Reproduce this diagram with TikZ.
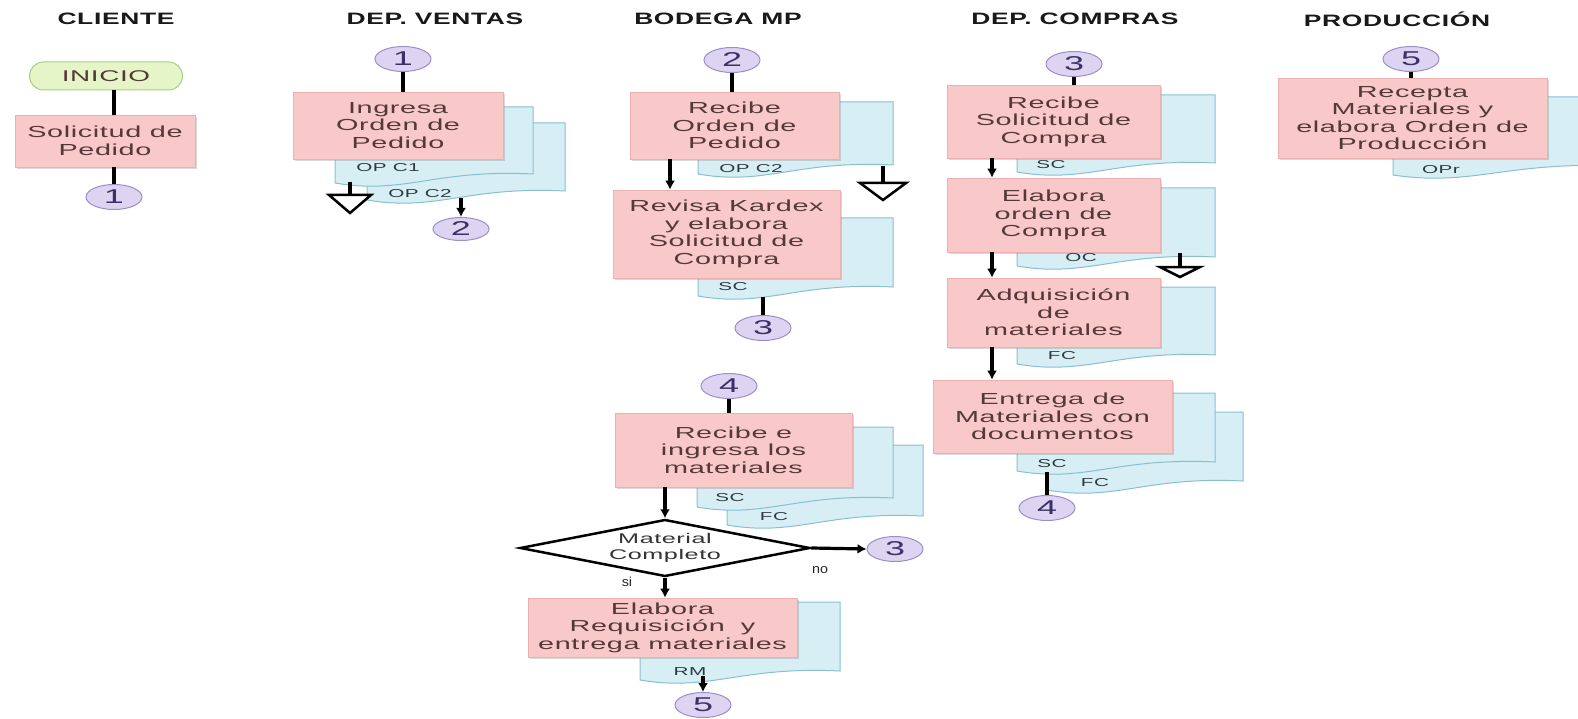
\documentclass[tikz,border=0pt]{standalone}
\usepackage{fontspec}
\setmainfont{Liberation Sans}
\newfontfamily\boxfont[FakeStretch=1.8,LetterSpace=4]{Liberation Sans}
\newfontfamily\hdrfont[FakeStretch=1.6,LetterSpace=4]{Liberation Sans}
\newfontfamily\tagfont[FakeStretch=1.1]{Liberation Sans}
\usetikzlibrary{shapes.geometric,shadows,arrows.meta,calc}

\definecolor{boxfill}{HTML}{F9C8C8}
\definecolor{boxline}{HTML}{EBB0B0}
\definecolor{boxtext}{HTML}{553838}
\definecolor{docfill}{HTML}{D6EEF4}
\definecolor{docline}{HTML}{88C0D0}
\definecolor{doctext}{HTML}{2E3A40}
\definecolor{conffill}{HTML}{DDD4F2}
\definecolor{confline}{HTML}{9C8ECB}
\definecolor{conftext}{HTML}{3A3266}
\definecolor{startfill}{HTML}{E6F5C8}
\definecolor{startline}{HTML}{A6CF7C}

\tikzset{
  hdr/.style={font=\hdrfont\bfseries\fontsize{16.5}{18}\selectfont, text=black!90},
  procbox/.style={rectangle, fill=boxfill, draw=boxline, line width=0.6pt,
    drop shadow={opacity=0.3, shadow xshift=2pt, shadow yshift=-2pt},
    text=boxtext, font=\boxfont\fontsize{16}{17.5}\selectfont, align=center, inner sep=0pt},
  startsty/.style={rectangle, rounded corners=14pt, fill=startfill, draw=startline, line width=1pt,
    minimum width=153pt, minimum height=28pt, inner sep=0pt,
    text=boxtext, font=\boxfont\fontsize{15.5}{16}\selectfont},
  conn/.style={ellipse, fill=conffill, draw=confline, line width=1pt, inner sep=0pt,
    minimum width=56pt, minimum height=25pt, text=conftext,
    font=\boxfont\fontsize{20}{20}\selectfont},
  docsty/.style={fill=docfill, draw=docline, line width=1pt},
  doclbl/.style={font=\boxfont\fontsize{11.5}{12}\selectfont, text=doctext, inner sep=0pt},
  decision/.style={diamond, aspect=5, draw=black, line width=2.5pt, fill=white, inner sep=0pt,
    minimum width=290pt, minimum height=57pt, align=center,
    font=\boxfont\fontsize{14}{15.5}\selectfont, text=black!80},
  smalllbl/.style={font=\tagfont\fontsize{13}{14}\selectfont, text=black!85, inner sep=0pt},
  flow/.style={draw=black, line width=3.2pt},
  arrowflow/.style={flow, -{Latex[length=9pt,width=10pt]}},
  tri/.style={draw=black, line width=2.5pt, fill=white, line join=miter}
}

% process box given by its edges: name, left, top, right, bottom, text
\newcommand\procnode[6]{%
  \node[procbox, minimum width={#4-#2}, minimum height={#5-#3}] (#1)
    at ({(#2+#4)/2},{(#3+#5)/2}) {#6};}
% document sheet with a wavy lower edge: left, top, right, lower-left corner
\newcommand\docpage[4]{%
  \draw[docsty] (#1,#2) -- (#3,#2) -- (#3,{#4-9})
    .. controls ({(#1+#3)/2},{#4-14}) and ({#1+0.35*(#3-#1)},{#4+12}) .. (#1,#4) -- cycle;}
% open triangle (archive) hanging from a named point: name, x, top y, half width, height
\newcommand\mergetri[5]{%
  \coordinate (#1) at (#2,#3);
  \draw[tri] ($(#1)+(-#4,0)$) -- ($(#1)+(#4,0)$) -- ($(#1)+(0,#5)$) -- cycle;}

\begin{document}
\begin{tikzpicture}[x=1pt,y=-1pt]
\useasboundingbox (0,0) rectangle (1578,719);

% lane titles
\node[hdr] (h-cli) at (116,19) {CLIENTE};
\node[hdr] (h-ven) at (435,19) {DEP. VENTAS};
\node[hdr] (h-bod) at (718,19) {BODEGA MP};
\node[hdr] (h-com) at (1075,19) {DEP. COMPRAS};
\node[hdr] (h-pro) at (1397,19) {PRODUCCIÓN};

% ---------- Cliente ----------
\node[startsty] (ini) at (106,76) {INICIO};
\procnode{cli-sol}{15}{115}{195}{167}{Solicitud de\\Pedido}
\node[conn] (cli-c1) at (114,197) {1};
\draw[flow] (ini.south -| cli-c1) -- (cli-sol.north -| cli-c1);
\draw[flow] (cli-sol.south -| cli-c1) -- (cli-c1.north);

% ---------- Dep. Ventas ----------
\node[conn] (ven-c1) at (403,59) {1};
\docpage{367}{123}{565}{200}
\docpage{335}{107}{533}{183}
\procnode{ven-ing}{293}{92}{503}{159}{Ingresa\\Orden de\\Pedido}
\node[doclbl] (ven-l1) at (388,168) {OP C1};
\node[doclbl] (ven-l2) at (420,194) {OP C2};
\draw[flow] (ven-c1.south) -- (ven-ing.north -| ven-c1);
\coordinate (ven-o1) at (350,182);
\mergetri{ven-t}{350}{195}{21}{18}
\draw[flow] (ven-o1) -- (ven-t);
\node[conn, minimum height=23pt] (ven-c2) at (461,229) {2};
\coordinate (ven-o2) at (461,198);
\draw[arrowflow] (ven-o2) -- (ven-c2.north);

% ---------- Bodega MP ----------
\node[conn] (bod-c2) at (732,60) {2};
\docpage{698}{102}{893}{174}
\procnode{bod-rec}{630}{92}{839}{159}{Recibe\\Orden de\\Pedido}
\node[doclbl] (bod-l1) at (751,169) {OP C2};
\draw[flow] (bod-c2.south) -- (bod-rec.north -| bod-c2);
\coordinate (bod-o1) at (883,166);
\mergetri{bod-t}{883}{183}{23}{17}
\draw[flow] (bod-o1) -- (bod-t);

\docpage{698}{218}{893}{296}
\procnode{bod-rev}{613}{190}{840}{278}{Revisa Kardex\\y elabora\\Solicitud de\\Compra}
\node[doclbl] (bod-l2) at (733,287) {SC};
\coordinate (bod-ax) at (670,0);
\draw[arrowflow] (bod-rec.south -| bod-ax) -- (bod-rev.north -| bod-ax);
\node[conn] (bod-c3) at (763,328) {3};
\coordinate (bod-o2) at (763,297);
\draw[flow] (bod-o2) -- (bod-c3.north);

\node[conn] (bod-c4) at (729,386) {4};
\docpage{727}{445}{923}{525}
\docpage{697}{427}{893}{507}
\procnode{bod-ing}{615}{413}{852}{487}{Recibe e\\ingresa los\\materiales}
\node[doclbl] (bod-l3) at (730,498) {SC};
\node[doclbl] (bod-l4) at (774,517) {FC};
\draw[flow] (bod-c4.south) -- (bod-ing.north -| bod-c4);

\node[decision] (bod-dec) at (665,548) {Material\\Completo};
\draw[arrowflow] (bod-ing.south -| bod-dec) -- (bod-dec.north);
\node[conn] (bod-c3b) at (895,549) {3};
\draw[arrowflow] (bod-dec.east) -- (bod-c3b.west);
\node[smalllbl] (bod-no) at (820,570) {no};
\node[smalllbl] (bod-si) at (627,582) {si};

\docpage{640}{602}{840}{680}
\procnode{bod-req}{528}{598}{797}{657}{Elabora\\Requisición\quad y\\entrega materiales}
\node[doclbl] (bod-l5) at (690,672) {RM};
\draw[arrowflow] (bod-dec.south) -- (bod-req.north -| bod-dec);
\node[conn] (bod-c5) at (703,705) {5};
\coordinate (bod-o3) at (703,676);
\draw[arrowflow] (bod-o3) -- (bod-c5.north);

% ---------- Dep. Compras ----------
\node[conn] (com-c3) at (1074,64) {3};
\docpage{1017}{95}{1215}{172}
\procnode{com-sol}{947}{85}{1160}{158}{Recibe\\Solicitud de\\Compra}
\node[doclbl] (com-l1) at (1051,165) {SC};
\draw[flow] (com-c3.south) -- (com-sol.north -| com-c3);

\docpage{1017}{188}{1215}{266}
\procnode{com-oc}{947}{178}{1160}{252}{Elabora\\orden de\\Compra}
\node[doclbl] (com-l2) at (1081,258) {OC};
\coordinate (com-o1) at (1180,253);
\mergetri{com-t}{1180}{267}{20}{10}
\draw[flow] (com-o1) -- (com-t);

\docpage{1017}{287}{1215}{364}
\procnode{com-adq}{947}{278}{1160}{347}{Adquisición\\de\\materiales}
\node[doclbl] (com-l3) at (1062,356) {FC};

\docpage{1047}{412}{1243}{490}
\docpage{1017}{393}{1215}{471}
\procnode{com-ent}{933}{380}{1172}{453}{Entrega de\\Materiales con\\documentos}
\node[doclbl] (com-l4) at (1052,464) {SC};
\node[doclbl] (com-l5) at (1095,483) {FC};

\coordinate (com-ax) at (992,0);
\draw[arrowflow] (com-sol.south -| com-ax) -- (com-oc.north -| com-ax);
\draw[arrowflow] (com-oc.south -| com-ax) -- (com-adq.north -| com-ax);
\draw[arrowflow] (com-adq.south -| com-ax) -- (com-ent.north -| com-ax);
\node[conn] (com-c4) at (1047,508) {4};
\coordinate (com-o2) at (1047,472);
\draw[flow] (com-o2) -- (com-c4.north);

% ---------- Producción ----------
\node[conn] (pro-c5) at (1411,59) {5};
\docpage{1393}{97}{1620}{175}
\procnode{pro-rec}{1278}{78}{1547}{158}{Recepta\\Materiales y\\elabora Orden de\\Producción}
\node[doclbl] (pro-l1) at (1441,170) {OPr};
\draw[flow] (pro-c5.south) -- (pro-rec.north -| pro-c5);
\end{tikzpicture}
\end{document}
